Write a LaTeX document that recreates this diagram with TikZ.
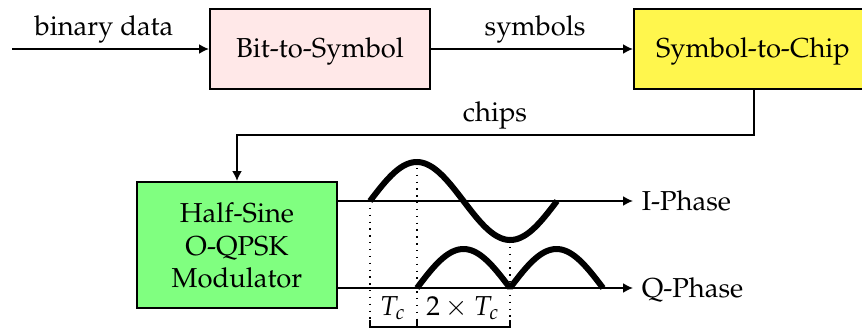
\documentclass[tikz,border=0pt]{standalone}
\usepackage[T1]{fontenc}
\usepackage{mathpazo}
\usetikzlibrary{arrows.meta}

% one drawing unit = 0.365pt
\tikzset{
  blockbox/.style={draw, line width=0.75pt, minimum height=29.2pt, inner sep=0pt},
  sigarrow/.style={line width=0.65pt, -{Latex[length=3.6pt,width=3.6pt]}},
  sigline/.style={line width=0.65pt},
  wave/.style={line width=2.2pt},
  guide/.style={dotted, line width=0.5pt},
  lbl/.style={anchor=base, inner sep=0pt}
}

\begin{document}
\begin{tikzpicture}[x=0.365pt, y=-0.365pt, font=\fontsize{10}{12}\selectfont]
\useasboundingbox (0,0) rectangle (862,329);

% processing blocks
\node[blockbox, fill=red!9, minimum width=80.3pt] (bits) at (320,49) {};
\node[lbl] at (320,57) {Bit-to-Symbol};
\node[blockbox, fill=yellow!70, minimum width=87.6pt] (chip) at (754,49) {};
\node[lbl] at (753,57) {Symbol-to-Chip};
\node[blockbox, fill=green!50, minimum width=73pt, minimum height=46pt] (mod) at (237,245) {};
\node[lbl] at (237,222) {Half-Sine};
\node[lbl] at (237,255) {O-QPSK};
\node[lbl] at (237,287) {Modulator};

% data path
\coordinate (in) at (12,49);
\draw[sigarrow] (in) -- (bits.west);
\node[lbl] at (104,35) {binary data};
\draw[sigarrow] (bits.east) -- (chip.west);
\node[lbl] at (535,35) {symbols};
\coordinate (bend) at (754,135);
\draw[sigarrow] (chip.south) -- (bend) -| (mod.north);
\node[lbl] at (495,121) {chips};

% I and Q axes
\coordinate (iy) at (0,201);
\coordinate (qy) at (0,288);
\node[anchor=west, inner xsep=3pt, inner ysep=0pt] (iph) at (633,201) {I-Phase};
\node[anchor=west, inner xsep=3pt, inner ysep=0pt] (qph) at (633,288) {\raisebox{0pt}[\height][0pt]{Q-Phase}};
\draw[sigarrow] (mod.east |- iy) -- (iph.west);
\draw[sigarrow] (mod.east |- qy) -- (qph.west);

% half-sine waveforms (period 187 units, amplitude 39 units)
\draw[wave] plot[domain=0:187, samples=80, smooth] ({370+\x},{201-39*sin(1.92513*\x)});
\draw[wave] plot[domain=0:186, samples=80] ({417+\x},{288-39*abs(sin(1.93548*\x))});

% timing guides
\draw[guide] (370,201) -- (370,327);
\draw[guide] (417,161) -- (417,327);
\draw[guide] (510,240) -- (510,327);
\draw[sigline] (370,320) -- (370,327) -- (510,327) -- (510,320);
\draw[sigline] (417,320) -- (417,327);
\node[lbl] at (393,315) {$T_c$};
\node[lbl] at (463,315) {$2\times T_c$};
\end{tikzpicture}
\end{document}
